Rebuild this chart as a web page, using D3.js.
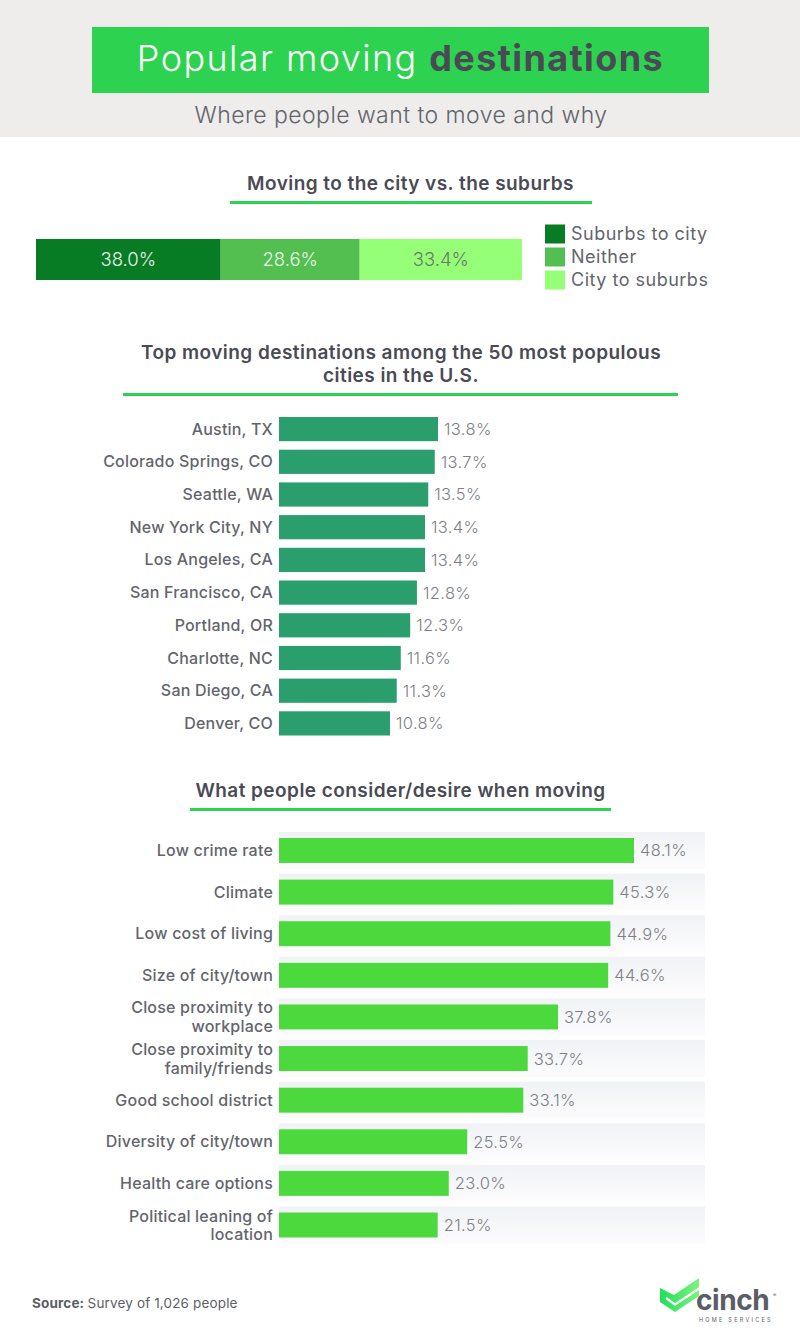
<!DOCTYPE html>
<html>
<head>
<meta charset="utf-8">
<script src="https://cdn.jsdelivr.net/npm/d3@7"></script>
<style>
html, body { margin: 0; padding: 0; background: #fff; }
svg { display: block; }
text { font-family: Inter, "Open Sans", sans-serif; }
</style>
</head>
<body>
<div id="chart"></div>
<script>
const shareKeys = ["Suburbs to city", "Neither", "City to suburbs"];
const shareValues = [38.0, 28.6, 33.4];
const shareColors = ["#087b25", "#52bf50", "#95ff78"];
const shareLabelColors = ["#e6f3e6", "#eaf7ea", "#6b7a68"];

const cities = ["Austin, TX", "Colorado Springs, CO", "Seattle, WA", "New York City, NY", "Los Angeles, CA",
  "San Francisco, CA", "Portland, OR", "Charlotte, NC", "San Diego, CA", "Denver, CO"];
const cityValues = [13.8, 13.7, 13.5, 13.4, 13.4, 12.8, 12.3, 11.6, 11.3, 10.8];

const factors = ["Low crime rate", "Climate", "Low cost of living", "Size of city/town",
  "Close proximity to\nworkplace", "Close proximity to\nfamily/friends", "Good school district",
  "Diversity of city/town", "Health care options", "Political leaning of\nlocation"];
const factorValues = [48.1, 45.3, 44.9, 44.6, 37.8, 33.7, 33.1, 25.5, 23.0, 21.5];

const dark = "#4a4a55", grey = "#7d7f87", green = "#2dd350";
const width = 800, height = 1344;

const svg = d3.select("#chart").append("svg").attr("width", width).attr("height", height);

const defs = svg.append("defs");
const grad = defs.append("linearGradient").attr("id", "band").attr("x1", 0).attr("x2", 0).attr("y1", 0).attr("y2", 1);
grad.append("stop").attr("offset", "0%").attr("stop-color", "#f1f2f6");
grad.append("stop").attr("offset", "100%").attr("stop-color", "#fcfcfd");
const logoGrad = defs.append("linearGradient").attr("id", "logoFill");
logoGrad.append("stop").attr("offset", "0%").attr("stop-color", "#1fe05a");
logoGrad.append("stop").attr("offset", "100%").attr("stop-color", "#7df27f");

// header
svg.append("rect").attr("width", width).attr("height", 137).attr("fill", "#eeedeb");
svg.append("rect").attr("x", 92).attr("y", 27).attr("width", 617).attr("height", 66).attr("fill", green);
const title = svg.append("text").attr("x", 400.5).attr("y", 71).attr("text-anchor", "middle")
  .attr("font-size", 36).attr("letter-spacing", 1.4);
title.append("tspan").attr("fill", "#fff").attr("font-weight", 300).text("Popular moving ");
title.append("tspan").attr("fill", dark).attr("font-weight", 700).text("destinations");
svg.append("text").attr("x", 401).attr("y", 123).attr("text-anchor", "middle")
  .attr("font-size", 23).attr("font-weight", 300).attr("fill", "#62646c").attr("letter-spacing", 0.45)
  .text("Where people want to move and why");

// section headings with the green rule below
function heading(lines, y, cx, x1, x2) {
  lines.forEach((t, i) => {
    svg.append("text").attr("x", cx).attr("y", y + i * 23)
      .attr("text-anchor", "middle").attr("font-size", 19).attr("font-weight", 600)
      .attr("letter-spacing", 0.45).attr("fill", dark).text(t);
  });
  svg.append("rect").attr("x", x1).attr("width", x2 - x1).attr("height", 3)
    .attr("y", y + (lines.length - 1) * 23 + 11).attr("fill", green);
}
heading(["Moving to the city vs. the suburbs"], 190, 410.5, 230, 592);
heading(["Top moving destinations among the 50 most populous", "cities in the U.S."], 359, 401, 123, 678);
heading(["What people consider/desire when moving"], 797, 400.5, 190, 611);

// stacked bar
const stackRows = [Object.fromEntries(shareKeys.map((k, i) => [k, shareValues[i]]))];
const stacked = d3.stack().keys(shareKeys)(stackRows);
const xShare = d3.scaleLinear().domain([0, 100]).range([36, 522]);
const gShare = svg.append("g");
gShare.selectAll("rect").data(stacked).join("rect")
  .attr("x", d => xShare(d[0][0])).attr("width", d => xShare(d[0][1]) - xShare(d[0][0]))
  .attr("y", 239).attr("height", 41).attr("fill", (d, i) => shareColors[i]);
gShare.selectAll("text").data(stacked).join("text")
  .attr("x", d => xShare((d[0][0] + d[0][1]) / 2)).attr("y", 266)
  .attr("text-anchor", "middle").attr("font-size", 18.5).attr("font-weight", 300)
  .attr("fill", (d, i) => shareLabelColors[i])
  .text((d, i) => shareValues[i].toFixed(1) + "%");

const yLegend = d3.scalePoint().domain(shareKeys).range([234, 280]);
const gLegend = svg.append("g");
gLegend.selectAll("rect").data(shareKeys).join("rect")
  .attr("x", 545).attr("y", d => yLegend(d) - 9.5).attr("width", 20).attr("height", 19)
  .attr("fill", (d, i) => shareColors[i]);
gLegend.selectAll("text").data(shareKeys).join("text")
  .attr("x", 571).attr("y", d => yLegend(d) + 6).attr("font-size", 18).attr("font-weight", 400)
  .attr("letter-spacing", 0.5).attr("fill", "#63656d").text(d => d);

// horizontal bars, band rows go behind when a band is passed
function barChart(labels, values, opts) {
  const y = d3.scaleBand().domain(labels).range(opts.yRange).paddingInner(opts.padding);
  const x = d3.scaleLinear().domain(opts.domain).range(opts.range);
  const g = svg.append("g");
  if (opts.band) {
    g.selectAll("rect.band").data(labels).join("rect").attr("class", "band")
      .attr("x", 279).attr("width", 426)
      .attr("y", d => y(d) - opts.band).attr("height", y.bandwidth() + opts.band * 2)
      .attr("fill", "url(#band)");
  }
  g.selectAll("rect.bar").data(values).join("rect").attr("class", "bar")
    .attr("x", 279).attr("width", d => x(d) - 279)
    .attr("y", (d, i) => y(labels[i])).attr("height", y.bandwidth())
    .attr("fill", opts.color);
  g.selectAll("text.val").data(values).join("text").attr("class", "val")
    .attr("x", d => x(d) + 6).attr("y", (d, i) => y(labels[i]) + y.bandwidth() / 2 + 6)
    .attr("font-size", 16.5).attr("font-weight", 300).attr("letter-spacing", 0.35).attr("fill", grey)
    .text(d => d.toFixed(1) + "%");
  svg.append("g").attr("transform", "translate(279,0)")
    .call(d3.axisLeft(y).tickSize(0).tickPadding(6))
    .call(a => a.select(".domain").remove())
    .call(a => a.selectAll("text").each(function (d) {
      const t = d3.select(this).text(null).attr("font-size", 16).attr("font-weight", 500)
        .attr("letter-spacing", 0.2).attr("fill", "#63656d").attr("dy", null)
        .style("font-family", "Inter, 'Open Sans', sans-serif");
      const parts = d.split("\n");
      parts.forEach((p, i) => {
        t.append("tspan").attr("x", -6).attr("y", i * 18.5 + (parts.length > 1 ? -3.5 : 5.5)).text(p);
      });
    }));
}

// the source's city bars are not strictly proportional to their labels, hence the extra stops
barChart(cities, cityValues, {
  yRange: [417, 735.5], padding: 0.26, color: "#2a9e6d",
  domain: [0, 10.8, 13.4, 13.8], range: [279, 390, 425, 438]
});
barChart(factors, factorValues, {
  yRange: [838, 1237.5], padding: 0.4, color: "#4cd93d", band: 6,
  domain: [0, 48.1], range: [279, 634]
});

// source
const src = svg.append("text").attr("x", 32).attr("y", 1308).attr("font-size", 13.5)
  .attr("letter-spacing", 0.15).attr("fill", "#5c5e66");
src.append("tspan").attr("font-weight", 700).text("Source: ");
src.append("tspan").attr("font-weight", 400).text("Survey of 1,026 people");

// logo
const logo = svg.append("g");
logo.append("path").attr("fill", "url(#logoFill)")
  .attr("d", "M660 1288 L660 1302 L675 1312 L699 1296 L699 1278 L674 1295 Z");
logo.append("path").attr("fill", "none").attr("stroke", "#fff").attr("stroke-width", 2.2)
  .attr("d", "M666 1298 L675 1304.5 L700 1288");
logo.append("text").attr("x", 696).attr("y", 1310).attr("font-size", 28).attr("font-weight", 700)
  .attr("fill", "#5b5d66").attr("letter-spacing", -0.4).text("cinch");
logo.append("text").attr("x", 773).attr("y", 1297).attr("font-size", 5)
  .attr("fill", "#5b5d66").text("®");
logo.append("text").attr("x", 699).attr("y", 1322).attr("font-size", 5.5).attr("font-weight", 400)
  .attr("fill", "#5b5d66").attr("letter-spacing", 2.25).text("HOME SERVICES");
</script>
</body>
</html>
